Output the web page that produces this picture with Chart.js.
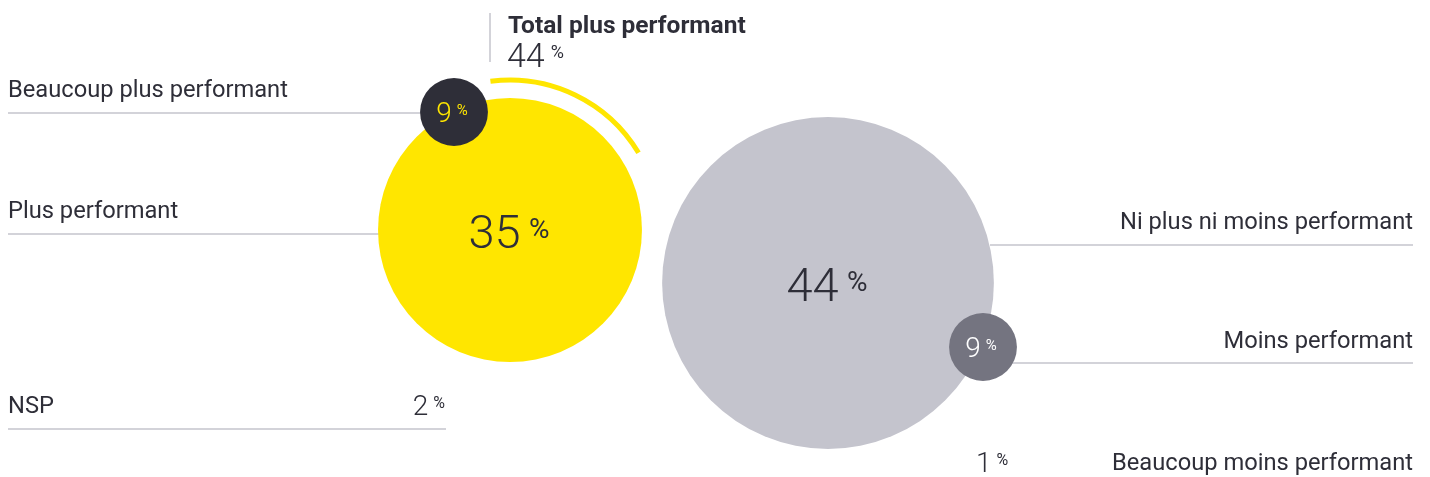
<!DOCTYPE html>
<html>
<head>
<meta charset="utf-8">
<script src="https://cdn.jsdelivr.net/npm/chart.js@4"></script>
<style>
  html, body { margin: 0; padding: 0; background: #fff; }
  canvas { display: block; }
</style>
</head>
<body>
<canvas id="bubbles" width="1430" height="477"></canvas>
<script>
// data
const categories = ['Beaucoup plus performant', 'Plus performant', 'Ni plus ni moins performant', 'Moins performant', 'Beaucoup moins performant', 'NSP'];
const values = [9, 35, 44, 9, 1, 2];
const totalLabel = 'Total plus performant';
const totalValue = 44;

// layout (pixels) - bubble centres, label sides
const bubbleX = [454, 510, 828, 983, null, null];
const bubbleY = [112, 230, 283, 347, null, null];
const radiusPerPoint = 3.77;
const colors = ['#2e2e38', '#ffe600', '#c4c4cd', '#747480', null, null];
const valueColors = ['#ffe600', '#2e2e38', '#2e2e38', '#ffffff', null, null];

const TEXT = '#2e2e38';
const RULE = '#c4c4cd';
const FONT = 'Roboto, "Open Sans", sans-serif';

// bubble order: big ones first so the small ones sit on top
const drawOrder = [1, 0, 2, 3];
const points = drawOrder.map(i => ({ x: bubbleX[i], y: bubbleY[i], r: values[i] * radiusPerPoint, idx: i }));

function drawPct(ctx, num, x, y, size, color, align, ratio) {
  // number with a small raised % sign; y = vertical centre of digits
  ratio = ratio || 0.5;
  ctx.save();
  ctx.fillStyle = color;
  ctx.textBaseline = 'alphabetic';
  const s2 = Math.round(size * ratio);
  const big = '300 ' + size + 'px ' + FONT;
  const small = '400 ' + s2 + 'px ' + FONT;
  ctx.font = big;
  const w1 = ctx.measureText(String(num)).width;
  ctx.font = small;
  const gap = size * 0.18;
  const w2 = ctx.measureText('%').width;
  const total = w1 + gap + w2;
  let x0 = x;
  if (align === 'center') x0 = x - total / 2;
  if (align === 'right') x0 = x - total;
  const base = y + size * 0.355;
  ctx.font = big;
  ctx.fillText(String(num), x0, base);
  ctx.font = small;
  ctx.fillText('%', x0 + w1 + gap, base - 0.711 * (size - s2) + size * 0.07);
  ctx.restore();
}

function label(ctx, text, x, y, align, weight, size) {
  ctx.save();
  ctx.font = (weight || '400') + ' ' + (size || 23.7) + 'px ' + FONT;
  ctx.fillStyle = TEXT;
  ctx.textAlign = align;
  ctx.textBaseline = 'alphabetic';
  ctx.fillText(text, x, y);
  ctx.restore();
}

function rule(ctx, x1, x2, y) {
  ctx.save();
  ctx.strokeStyle = RULE;
  ctx.lineWidth = 1.5;
  ctx.beginPath();
  ctx.moveTo(x1, y);
  ctx.lineTo(x2, y);
  ctx.stroke();
  ctx.restore();
}

const decorations = {
  id: 'decorations',
  beforeDatasetsDraw(chart) {
    const ctx = chart.ctx;
    const meta = chart.getDatasetMeta(0).data;
    const el = i => meta[drawOrder.indexOf(i)];

    // left-hand labels
    label(ctx, categories[0], 8, 97, 'left');
    rule(ctx, 8, el(0).x, 113);
    label(ctx, categories[1], 8, 218, 'left');
    rule(ctx, 8, el(1).x, 234);
    label(ctx, categories[5], 8, 413, 'left');
    rule(ctx, 8, 446, 429);
    drawPct(ctx, values[5], 445, 405, 28, TEXT, 'right', 0.56);

    // right-hand labels
    label(ctx, categories[2], 1413, 229, 'right');
    rule(ctx, 990, 1413, 245);
    label(ctx, categories[3], 1413, 348, 'right');
    rule(ctx, el(3).x, 1413, 363);
    label(ctx, categories[4], 1413, 470, 'right');
    drawPct(ctx, values[4], 976, 462, 28, TEXT, 'left', 0.56);

    // total header
    ctx.save();
    ctx.strokeStyle = RULE;
    ctx.lineWidth = 1.5;
    ctx.beginPath();
    ctx.moveTo(490, 13);
    ctx.lineTo(490, 62);
    ctx.stroke();
    ctx.restore();
    label(ctx, totalLabel, 508, 33, 'left', '700', 24.5);
    drawPct(ctx, totalValue, 507, 54.5, 34, TEXT, 'left', 0.54);

    // arc around the "plus" bubbles
    const yel = el(1);
    ctx.save();
    ctx.strokeStyle = '#ffe600';
    ctx.lineWidth = 5;
    ctx.beginPath();
    ctx.arc(yel.x, yel.y, yel.options.radius + 18, -97.5 * Math.PI / 180, -31 * Math.PI / 180);
    ctx.stroke();
    ctx.restore();
  },
  afterDatasetsDraw(chart) {
    const ctx = chart.ctx;
    chart.getDatasetMeta(0).data.forEach((p, k) => {
      const i = drawOrder[k];
      const big = values[i] >= 20;
      if (big) drawPct(ctx, values[i], p.x - 1, p.y + 1.5, 47, valueColors[i], 'center', 0.6);
      else drawPct(ctx, values[i], p.x - 2, p.y + 0.5, 28, valueColors[i], 'center', 0.54);
    });
  }
};

new Chart(document.getElementById('bubbles'), {
  type: 'bubble',
  data: {
    datasets: [{
      data: points,
      backgroundColor: points.map(p => colors[p.idx]),
      borderWidth: 0,
      hoverRadius: 0,
      clip: false
    }]
  },
  options: {
    responsive: false,
    animation: false,
    layout: { padding: 0, autoPadding: false },
    events: [],
    scales: {
      x: { type: 'linear', display: false, min: 0, max: 1430 },
      y: { type: 'linear', display: false, min: 0, max: 477, reverse: true }
    },
    plugins: { legend: { display: false }, tooltip: { enabled: false } }
  },
  plugins: [decorations]
});
</script>
</body>
</html>
